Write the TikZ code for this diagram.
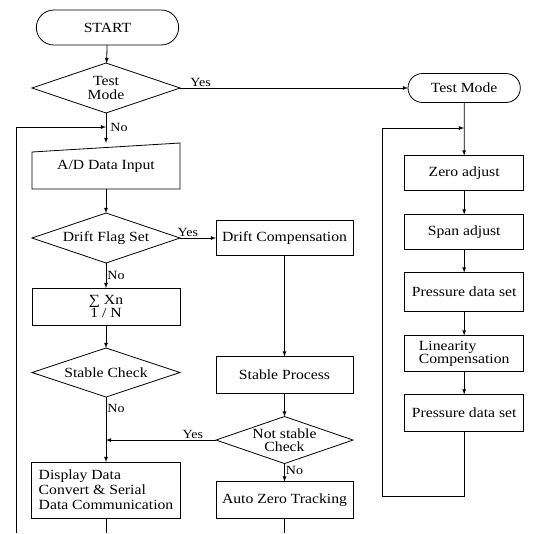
\documentclass[tikz,border=0pt]{standalone}
\usepackage{fontspec}
\setmainfont{Liberation Serif}[FakeStretch=1.12]
\usetikzlibrary{shapes.geometric, arrows}
\usetikzlibrary{shapes.misc, positioning}
\tikzstyle{term} = [rounded rectangle, draw, outer sep=0pt, minimum width=149pt, minimum height=35pt]
\tikzstyle{decision} = [diamond, draw, aspect=3, inner sep=0pt, outer sep=0pt, minimum width=148pt, minimum height=50pt]
\tikzstyle{process} = [rectangle, draw, outer sep=0pt, minimum width=148pt, minimum height=37pt]
\tikzstyle{manual} = [rectangle, outer sep=0pt, minimum width=148pt, minimum height=46pt]
\tikzstyle{lbl} = [inner sep=1pt, font=\fontsize{12.5}{12}\selectfont]
\tikzstyle{aro} = [-latex]

\begin{document}
\begin{tikzpicture}[x=1pt, y=-1pt, line width=0.8pt, align=center, font=\fontsize{14}{14}\selectfont]

  \useasboundingbox (0,0) rectangle (534,533);

  % left column
  \node (start) [term] at (107.5,27.5) {START};
  \node (testq) [decision, below=18pt of start, xshift=-1.5pt] {Test\\Mode};
  \node (adin) [manual, below=30pt of testq] {A/D Data Input};
  \draw (adin.south west) -- ([yshift=-9pt]adin.north west) -- (adin.north east) -- (adin.south east) -- cycle;
  \node (driftq) [decision, below=24pt of adin] {Drift Flag Set};
  \node (avg) [process, below=25pt of driftq, font=\fontsize{14}{13.5}\selectfont] {∑ Xn\\1 / N};
  \node (stableq) [decision, below=23pt of avg, minimum height=49pt] {Stable Check};
  \node (display) [process, below=65pt of stableq, minimum width=149pt, minimum height=56pt, align=left,
    font=\fontsize{14}{15}\selectfont] {Display Data\\Convert \& Serial\\Data Communication};

  % middle column
  \node (driftc) [process, right=36pt of driftq, minimum width=137pt, minimum height=35pt] {Drift Compensation};
  \node (stablep) [process, below=101pt of driftc, minimum width=137pt] {Stable Process};
  \node (notstable) [decision, below=23pt of stablep, aspect=2.7, minimum width=137pt, minimum height=47pt,
    font=\fontsize{14}{13.5}\selectfont] {Not stable\\Check};
  \node (autozero) [process, below=18pt of notstable, minimum width=137pt] {Auto Zero Tracking};

  % right column
  \node (testm) [term, right=228pt of testq, minimum width=119pt, minimum height=29pt] {Test Mode};
  \node (zero) [process, below=53pt of testm, minimum width=119pt, minimum height=35pt] {Zero adjust};
  \node (span) [process, below=24pt of zero, minimum width=119pt, minimum height=35pt] {Span adjust};
  \node (press1) [process, below=23pt of span, minimum width=119pt, minimum height=39pt] {Pressure data set};
  \node (linear) [process, below=24pt of press1, minimum width=119pt, minimum height=36pt, align=left,
    font=\fontsize{14}{13}\selectfont] {Linearity\\Compensation};
  \node (press2) [process, below=23pt of linear, minimum width=119pt] {Pressure data set};

  \coordinate (ljoin) at (testq.south |- 0,127);
  \coordinate (lbot) at (16,533);
  \coordinate (dbot) at (display.south |- lbot);
  \coordinate (abot) at (autozero.south |- lbot);
  \coordinate (rjoin) at (testm.south |- 0,128);
  \coordinate (rcorner) at (382,496);

  \draw [aro] (start) -- (testq);
  \draw [aro] (testq) -- (adin);
  \node (no1) [lbl, right=3pt of ljoin] {No};
  \draw [aro] (lbot) |- (ljoin);
  \draw [aro] (testq.east) -- node(yes1)[lbl, above, pos=0.09]{Yes} (testm.west);
  \draw [aro] (adin) -- (driftq);
  \draw [aro] (driftq.east) -- node(yes2)[lbl, above, pos=0.22]{Yes} (driftc.west);
  \draw [aro] (driftq) -- node(no2)[lbl, right, pos=0.5]{No} (avg);
  \draw [aro] (avg) -- (stableq);
  \draw [aro] (stableq) -- node(no3)[lbl, right, pos=0.17]{No} (display);
  \draw (display) -- (dbot);

  \draw [aro] (driftc) -- (stablep);
  \draw [aro] (stablep) -- (notstable);
  \draw [aro] (notstable.west) -- node(yes3)[lbl, above, pos=0.21]{Yes} (notstable.west -| stableq.south);
  \draw [aro] (notstable) -- node(no4)[lbl, right, pos=0.4]{No} (autozero);
  \draw (autozero) -- (abot);

  \draw [aro] (testm) -- (zero);
  \draw [aro] (zero) -- (span);
  \draw [aro] (span) -- (press1);
  \draw [aro] (press1) -- (linear);
  \draw [aro] (linear) -- (press2);
  \draw [aro] (press2.south) |- (rcorner) |- (rjoin);

\end{tikzpicture}
\end{document}
